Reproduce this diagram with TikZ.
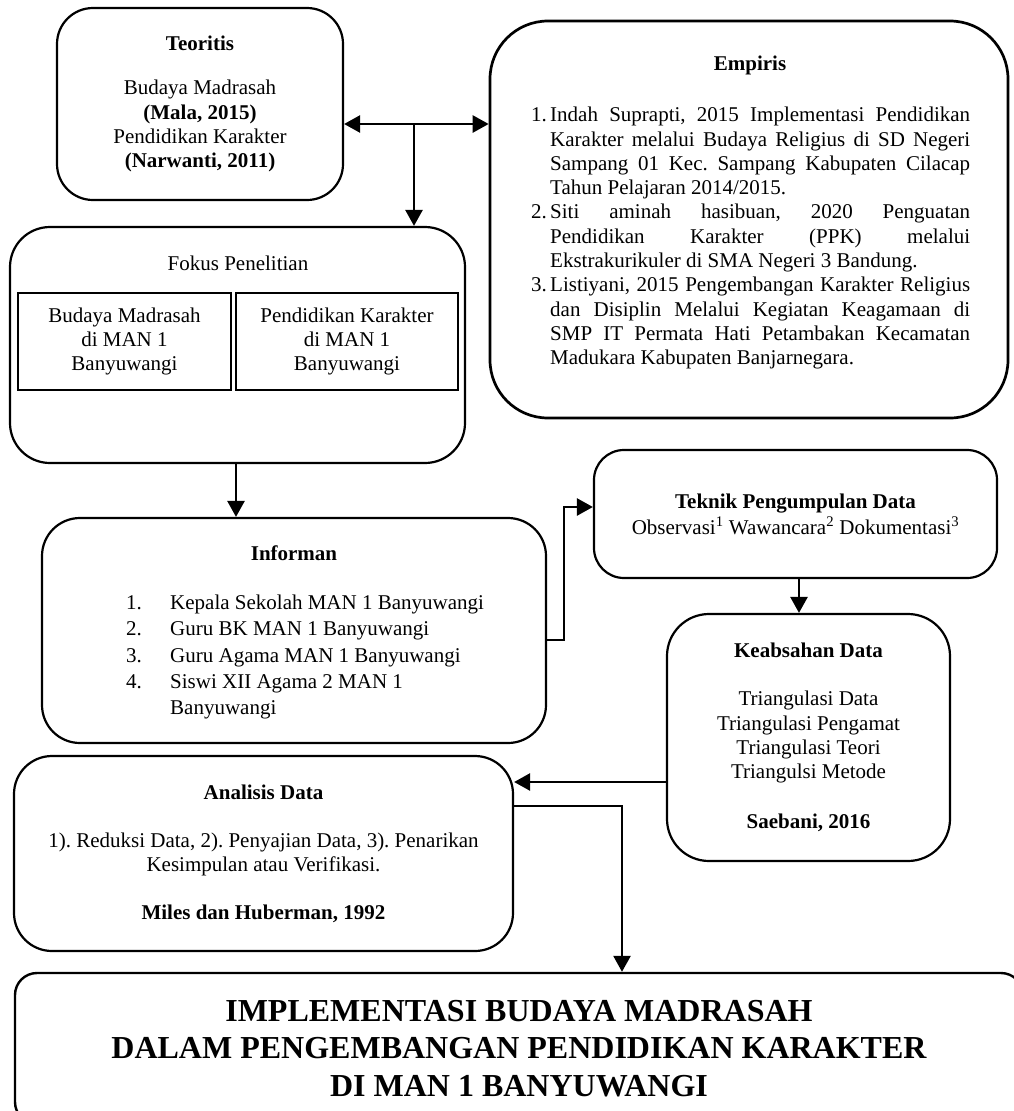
\documentclass[tikz,border=0pt]{standalone}
\usepackage{fontspec}
\setmainfont{Liberation Serif}
\usetikzlibrary{arrows.meta}
\usetikzlibrary{positioning}

\frenchspacing
\newcommand{\ritem}[1]{\hangindent=19pt\hangafter=1\noindent\makebox[19pt][l]{#1}}
\newcommand{\litem}[1]{\makebox[44pt][l]{#1}}

\tikzset{
  panel/.style={draw, line width=2.2pt, rounded corners=#1, align=center, inner sep=0pt},
  panel/.default=38pt,
  cell/.style={draw, line width=2pt, align=center, inner sep=0pt},
  head/.style={inner sep=0pt, font=\bfseries\fontsize{21}{24.3}\selectfont},
  flow/.style={line width=2.6pt, ->},
}

\begin{document}
\begin{tikzpicture}[x=1pt, y=-1pt, >={Triangle[length=16pt,width=17pt]},
    every node/.style={font=\fontsize{21}{24.3}\selectfont}]
    \useasboundingbox (0,0) rectangle (1014,1111);
    \clip (0,0) rectangle (1014,1111);

    \node[panel=36pt, minimum width=286pt, minimum height=192pt] (teoritis) at (200,104)
        {\textbf{Teoritis}\\[20pt]Budaya Madrasah\\\textbf{(Mala, 2015)}\\Pendidikan Karakter\\\textbf{(Narwanti, 2011)}};

    \node[panel=58pt, line width=2.7pt, minimum width=518pt, minimum height=397pt] (empiris) at (749,219.5) {};
    \node[head] (empirisT) at (750,65) {Empiris};
    \node[inner sep=0pt, text width=439pt, align=justify, anchor=north west] (empirisL) at (531,107)
        {\ritem{1.}Indah Suprapti, 2015 Implementasi Pendidikan\linebreak Karakter melalui Budaya Religius di SD Negeri\linebreak Sampang 01 Kec. Sampang Kabupaten Cilacap\linebreak Tahun Pelajaran 2014/2015.\par
         \ritem{2.}Siti aminah hasibuan, 2020 Penguatan\linebreak Pendidikan Karakter (PPK) melalui\linebreak Ekstrakurikuler di SMA Negeri 3 Bandung.\par
         \ritem{3.}Listiyani, 2015 Pengembangan Karakter Religius\linebreak dan Disiplin Melalui Kegiatan Keagamaan di\linebreak SMP IT Permata Hati Petambakan Kecamatan\linebreak Madukara Kabupaten Banjarnegara.\par};

    \node[panel=40pt, minimum width=455pt, minimum height=236pt] (fokus) at (237.5,345) {};
    \node[inner sep=0pt] (fokusT) at (238,263) {Fokus Penelitian};
    \node[cell, minimum width=213pt, minimum height=97pt] (fokusA) at (124.5,341.5) {Budaya Madrasah\\di MAN 1\\Banyuwangi};
    \node[cell, minimum width=222pt, minimum height=97pt] (fokusB) at (347,341.5) {Pendidikan Karakter\\di MAN 1\\Banyuwangi};

    \node[panel, minimum width=504pt, minimum height=225pt] (informan) at (294,630.5) {};
    \node[head] (informanT) at (294,553) {Informan};
    \node[inner sep=0pt, align=left, anchor=north west, font=\fontsize{21}{26.2}\selectfont] (informanL) at (126,595)
        {\litem{1.}Kepala Sekolah MAN 1 Banyuwangi\\\litem{2.}Guru BK MAN 1 Banyuwangi\\\litem{3.}Guru Agama MAN 1 Banyuwangi\\\litem{4.}Siswi XII Agama 2 MAN 1\\\hspace*{44pt}Banyuwangi};

    \node[panel=30pt, minimum width=403pt, minimum height=128pt] (teknik) at (795.5,514)
        {\textbf{Teknik Pengumpulan Data}\\[1.7pt]Observasi\textsuperscript{1} Wawancara\textsuperscript{2} Dokumentasi\textsuperscript{3}};

    \node[panel=42pt, minimum width=283pt, minimum height=247pt] (keabsahan) at (808.5,737.5)
        {\textbf{Keabsahan Data}\\[24pt]Triangulasi Data\\Triangulasi Pengamat\\Triangulasi Teori\\Triangulsi Metode\\[26pt]\textbf{Saebani, 2016}};

    \node[panel, minimum width=499pt, minimum height=195pt] (analisis) at (263.5,853.5)
        {\textbf{Analisis Data}\\[24pt]1). Reduksi Data, 2). Penyajian Data, 3). Penarikan\\Kesimpulan atau Verifikasi.\\[23pt]\textbf{Miles dan Huberman, 1992}};

    \node[panel=22pt, line width=2.4pt, minimum width=1008pt, minimum height=151pt,
        font=\bfseries\fontsize{32}{37.5}\selectfont] (judul) at (519,1048.5)
        {IMPLEMENTASI BUDAYA MADRASAH\\DALAM PENGEMBANGAN PENDIDIKAN KARAKTER\\DI MAN 1 BANYUWANGI};

    \coordinate (tj) at (414,124);
    \coordinate (kw) at ([yshift=-44.5pt]keabsahan.west);
    \coordinate (ae) at ([yshift=47.5pt]analisis.east);

    \draw[flow, <->] (teoritis.east |- tj) -- (empiris.west |- tj);
    \draw[flow] (tj) -- (tj |- fokus.north);
    \draw[flow] ([xshift=-1.5pt]fokus.south) -- ([xshift=-1.5pt]fokus.south |- informan.north);
    \draw[flow] ([yshift=-9.5pt]informan.east) -- ++(17,0) |- ([yshift=7pt]teknik.west);
    \draw[flow] ([xshift=3.5pt]teknik.south) -- ([xshift=3.5pt]teknik.south |- keabsahan.north);
    \draw[flow] (kw) -- (kw -| analisis.east);
    \draw[flow] (ae) -| ([xshift=103pt]judul.north);
\end{tikzpicture}
\end{document}
